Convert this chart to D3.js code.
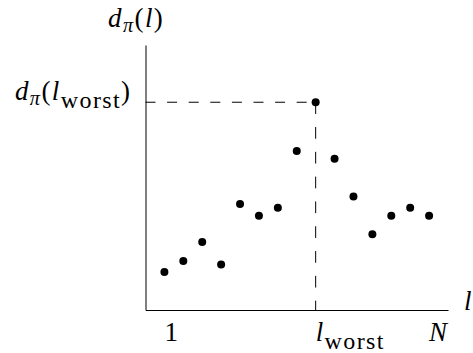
<!DOCTYPE html>
<html>
<head>
<meta charset="utf-8">
<script src="https://cdn.jsdelivr.net/npm/d3@7"></script>
<style>
  html, body { margin: 0; padding: 0; background: #fff; }
</style>
</head>
<body>
<svg id="chart" width="473" height="353"></svg>
<script>
// Layer index l = 1..N and the distance d_pi(l) at each layer
const layers = [1, 2, 3, 4, 5, 6, 7, 8, 9, 10, 11, 12, 13, 14, 15];
const distances = [1.43, 1.85, 2.57, 1.72, 4.0, 3.56, 3.86, 6.0, 7.84, 5.71, 4.28, 2.86, 3.56, 3.86, 3.56];

// Tick labels along the l axis
const xTickValues = [1, 9, 15];
const xTickLabels = ["1", "l_worst", "N"];

// Axis titles
const yTitle = "d_π(l)";
const xTitle = "l";
const worstLabel = "d_π(l_worst)";

const FONT = "'Liberation Serif', 'Times New Roman', 'DejaVu Serif', serif";

const svg = d3.select("#chart");
const margin = { left: 145.5, right: 25, top: 45, bottom: 43 };
const W = 473, H = 353;

const x = d3.scaleLinear().domain([0, 16]).range([margin.left, W - margin.right]);
const y = d3.scaleLinear().domain([0, 10]).range([H - margin.bottom, margin.top]);

// worst layer = the one with the largest distance
const iWorst = d3.maxIndex(distances);
const lWorst = layers[iWorst];
const dWorst = distances[iWorst];

// math-like text: italic letters, "_x" = subscript run
function mathText(sel, str, size, subSize, subShift) {
  sel.attr("font-family", FONT).attr("fill", "#000").attr("letter-spacing", 1.4);
  const tokens = [];
  let i = 0;
  while (i < str.length) {
    if (str[i] === "_") {
      i++;
      let j = i;
      while (j < str.length && /[A-Za-z\u03c0]/.test(str[j])) j++;
      tokens.push({ t: str.slice(i, j), sub: true });
      i = j;
    } else {
      let j = i;
      while (j < str.length && str[j] !== "_") j++;
      tokens.push({ t: str.slice(i, j), sub: false });
      i = j;
    }
  }
  let lastShift = 0;
  tokens.forEach(tk => {
    if (!tk.sub) {
      const parts = tk.t.match(/[A-Za-z\u03c0]+|[^A-Za-z\u03c0]+/g) || [];
      parts.forEach(p => {
        const isLetter = /[A-Za-z\u03c0]/.test(p);
        const ts = sel.append("tspan")
          .attr("font-family", FONT)
          .attr("font-size", size)
          .attr("font-style", isLetter ? "italic" : "normal")
          .text(p);
        if (lastShift) ts.attr("dy", -lastShift);
        lastShift = 0;
      });
    } else {
      const isGreek = /\u03c0/.test(tk.t);
      const sz = isGreek ? subSize * 0.85 : subSize;
      const sh = isGreek ? subShift * 0.6 : subShift;
      sel.append("tspan")
        .attr("font-family", FONT)
        .attr("font-size", sz)
        .attr("font-style", isGreek ? "italic" : "normal")
        .attr("dy", sh - lastShift)
        .text(tk.t);
      lastShift = sh;
    }
  });
  return sel;
}

// axes: plain lines without ticks
svg.append("g")
  .attr("transform", `translate(0,${y(0)})`)
  .call(d3.axisBottom(x).tickValues([]).tickSizeOuter(0))
  .call(g => g.select(".domain").attr("stroke", "#000").attr("stroke-width", 1));

svg.append("g")
  .attr("transform", `translate(${x(0)},0)`)
  .call(d3.axisLeft(y).tickValues([]).tickSizeOuter(0))
  .call(g => g.select(".domain").attr("stroke", "#000").attr("stroke-width", 1));

// dashed guides to the worst layer
svg.append("line")
  .attr("x1", x(0)).attr("x2", x(lWorst))
  .attr("y1", y(dWorst)).attr("y2", y(dWorst))
  .attr("stroke", "#000").attr("stroke-width", 1)
  .attr("stroke-dasharray", "10,11.6");

svg.append("line")
  .attr("x1", x(lWorst)).attr("x2", x(lWorst))
  .attr("y1", y(dWorst)).attr("y2", y(0))
  .attr("stroke", "#000").attr("stroke-width", 1)
  .attr("stroke-dasharray", "11.7,13.1");

// points
svg.append("g")
  .selectAll("circle")
  .data(layers)
  .join("circle")
  .attr("cx", d => x(d))
  .attr("cy", (d, i) => y(distances[i]))
  .attr("r", 4)
  .attr("fill", "#000");

// tick labels under the l axis
xTickValues.forEach((v, k) => {
  const t = svg.append("text")
    .attr("x", x(v))
    .attr("y", y(0) + 31)
    .attr("text-anchor", "start");
  mathText(t, xTickLabels[k], 27, 24, 8);
});

// value label at the worst point
mathText(svg.append("text")
  .attr("x", x(0) - 14)
  .attr("y", y(dWorst) - 2)
  .attr("text-anchor", "end"), worstLabel, 27, 24, 8);

// axis titles
mathText(svg.append("text")
  .attr("x", 108)
  .attr("y", 27)
  .attr("text-anchor", "start"), yTitle, 27, 24, 8);

mathText(svg.append("text")
  .attr("x", 464)
  .attr("y", y(0))
  .attr("text-anchor", "start"), xTitle, 27, 24, 8);
</script>
</body>
</html>
